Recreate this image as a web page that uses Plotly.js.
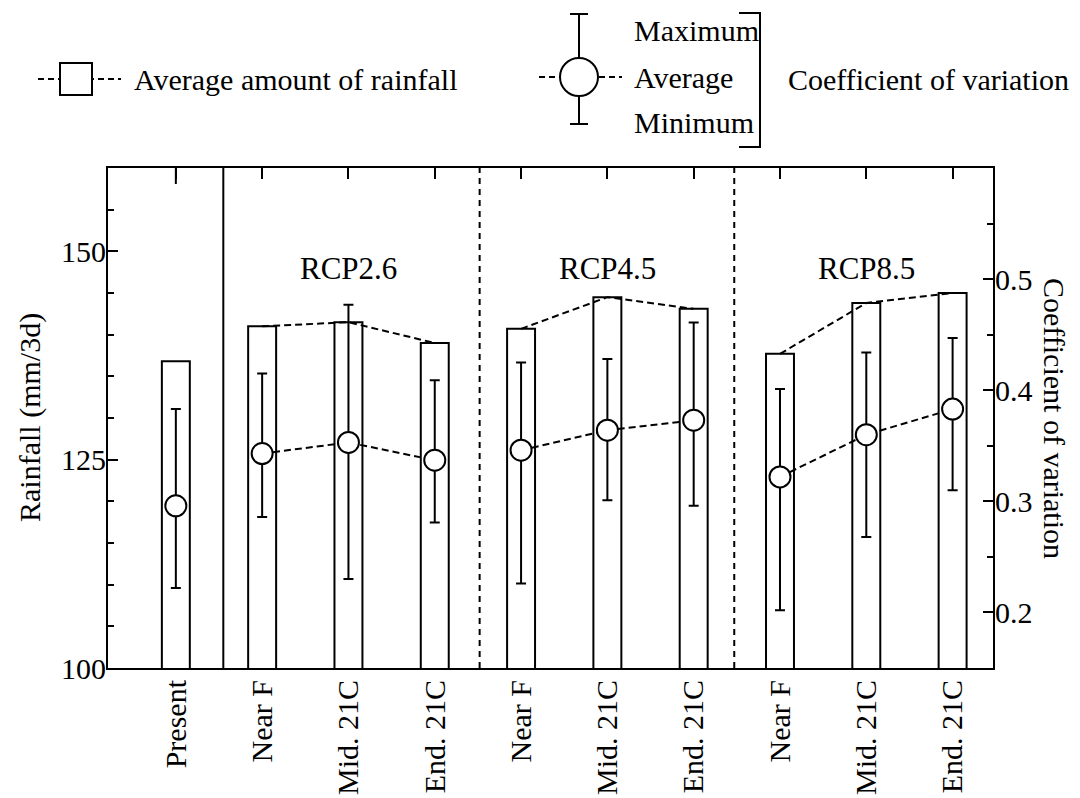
<!DOCTYPE html>
<html>
<head>
<meta charset="utf-8">
<script src="https://cdn.plot.ly/plotly-3.0.1.min.js"></script>
<style>
  html, body { margin: 0; padding: 0; background: #fff; }
  #chart { width: 1080px; height: 798px; }
</style>
</head>
<body>
<div id="chart"></div>
<script>
// Periods on the horizontal axis (present climate, then three future periods per scenario)
const categories = ['Present', 'Near F', 'Mid. 21C', 'End. 21C', 'Near F', 'Mid. 21C', 'End. 21C', 'Near F', 'Mid. 21C', 'End. 21C'];
const scenarios = ['RCP2.6', 'RCP4.5', 'RCP8.5'];
// Index ranges of the periods belonging to each scenario
const scenarioMembers = [[1, 2, 3], [4, 5, 6], [7, 8, 9]];

// Average 3-day rainfall (mm/3d), left axis
const rainfallAvg = [136.8, 141.0, 141.5, 139.0, 140.7, 144.5, 143.1, 137.7, 143.8, 145.0];
// Coefficient of variation, right axis
const cvAvg = [0.296, 0.343, 0.353, 0.337, 0.346, 0.364, 0.373, 0.322, 0.360, 0.383];
const cvMax = [0.383, 0.415, 0.477, 0.409, 0.425, 0.428, 0.461, 0.401, 0.434, 0.447];
const cvMin = [0.222, 0.286, 0.230, 0.281, 0.226, 0.301, 0.296, 0.202, 0.268, 0.310];

const FONT = 'Liberation Serif, Times New Roman, serif';
const FS = 30;
const W = 1080, H = 798;
const M = { l: 108, r: 87, t: 168, b: 130 };
const PW = W - M.l - M.r, PH = H - M.t - M.b;
// pixel -> paper helpers for the hand-drawn key above the plot
const px = v => (v - M.l) / PW;
const py = v => (H - M.b - v) / PH;

const idx = categories.map((_, i) => i);
const xRange = [-0.786, 9.468];
const dashPat = '7px,4px';

const traces = [];

// Rainfall bars
traces.push({
  type: 'bar', x: idx, y: rainfallAvg, width: 0.324,
  marker: { color: '#ffffff', line: { color: '#000', width: 2 } },
  xaxis: 'x', yaxis: 'y', hoverinfo: 'skip', showlegend: false
});

// Dashed lines joining bar tops within each scenario
scenarioMembers.forEach(m => {
  traces.push({
    type: 'scatter', mode: 'lines', x: m, y: m.map(i => rainfallAvg[i]),
    line: { color: '#000', width: 2, dash: dashPat },
    xaxis: 'x', yaxis: 'y', hoverinfo: 'skip', showlegend: false
  });
});

// Dashed lines joining CV averages within each scenario
scenarioMembers.forEach(m => {
  traces.push({
    type: 'scatter', mode: 'lines', x: m, y: m.map(i => cvAvg[i]),
    line: { color: '#000', width: 2, dash: dashPat },
    xaxis: 'x2', yaxis: 'y2', hoverinfo: 'skip', showlegend: false
  });
});

// CV average with min/max range
traces.push({
  type: 'scatter', mode: 'markers', x: idx, y: cvAvg,
  marker: { symbol: 'circle', size: 21, color: '#ffffff', line: { color: '#000', width: 2 } },
  error_y: {
    type: 'data', symmetric: false,
    array: cvMax.map((v, i) => v - cvAvg[i]),
    arrayminus: cvAvg.map((v, i) => v - cvMin[i]),
    color: '#000', thickness: 2, width: 5
  },
  xaxis: 'x2', yaxis: 'y2', hoverinfo: 'skip', showlegend: false
});

const shapes = [];
const annotations = [];

// Plot dividers: present vs future (solid), scenarios (dashed)
shapes.push({ type: 'line', xref: 'x', yref: 'paper', x0: 0.55, x1: 0.55, y0: 0, y1: 1, line: { color: '#000', width: 2 } });
[3.52, 6.47].forEach(v => shapes.push({
  type: 'line', xref: 'x', yref: 'paper', x0: v, x1: v, y0: 0, y1: 1,
  line: { color: '#000', width: 2, dash: '6px,5px' }
}));
// longer top tick over the present-climate column
shapes.push({ type: 'line', xref: 'x', yref: 'paper', x0: 0, x1: 0, y0: 1, y1: py(184), line: { color: '#000', width: 2 } });

// Scenario labels centred over their periods
scenarioMembers.forEach((m, k) => {
  annotations.push({
    text: scenarios[k], xref: 'x', yref: 'paper', x: m[1], y: py(268),
    showarrow: false, font: { family: FONT, size: 31, color: '#000' }, xanchor: 'center', yanchor: 'middle'
  });
});

// Axis titles
annotations.push({
  text: 'Rainfall (mm/3d)', xref: 'paper', yref: 'paper', x: px(30), y: py(418),
  textangle: -90, showarrow: false, font: { family: FONT, size: FS, color: '#000' },
  xanchor: 'center', yanchor: 'middle'
});
annotations.push({
  text: 'Coefficient of variation', xref: 'paper', yref: 'paper', x: px(1055), y: py(418),
  textangle: 90, showarrow: false, font: { family: FONT, size: FS, color: '#000' },
  xanchor: 'center', yanchor: 'middle'
});

// Key: rainfall symbol
shapes.push({ type: 'line', xref: 'paper', yref: 'paper', x0: px(38), x1: px(121), y0: py(79), y1: py(79), line: { color: '#000', width: 2, dash: '6px,4px' } });
shapes.push({ type: 'rect', xref: 'paper', yref: 'paper', x0: px(60), x1: px(92), y0: py(63), y1: py(95), fillcolor: '#fff', line: { color: '#000', width: 2 } });
annotations.push({
  text: 'Average amount of rainfall', xref: 'paper', yref: 'paper', x: px(132), y: py(79),
  showarrow: false, font: { family: FONT, size: FS, color: '#000' }, xanchor: 'left', yanchor: 'middle'
});

// Key: CV symbol
const kx = 579;
shapes.push({ type: 'line', xref: 'paper', yref: 'paper', x0: px(539), x1: px(622), y0: py(77), y1: py(77), line: { color: '#000', width: 2, dash: '6px,4px' } });
shapes.push({ type: 'line', xref: 'paper', yref: 'paper', x0: px(kx), x1: px(kx), y0: py(14), y1: py(124), line: { color: '#000', width: 2 } });
shapes.push({ type: 'line', xref: 'paper', yref: 'paper', x0: px(kx - 9), x1: px(kx + 9), y0: py(14), y1: py(14), line: { color: '#000', width: 2 } });
shapes.push({ type: 'line', xref: 'paper', yref: 'paper', x0: px(kx - 9), x1: px(kx + 9), y0: py(124), y1: py(124), line: { color: '#000', width: 2 } });
shapes.push({ type: 'circle', xref: 'paper', yref: 'paper', x0: px(kx - 19), x1: px(kx + 19), y0: py(58), y1: py(96), fillcolor: '#fff', line: { color: '#000', width: 2 } });
[['Maximum', 30], ['Average', 77], ['Minimum', 123]].forEach(([t, y]) => annotations.push({
  text: t, xref: 'paper', yref: 'paper', x: px(632), y: py(y),
  showarrow: false, font: { family: FONT, size: FS, color: '#000' }, xanchor: 'left', yanchor: 'middle'
}));
shapes.push({
  type: 'path', xref: 'paper', yref: 'paper',
  path: `M ${px(739)} ${py(13)} L ${px(760)} ${py(13)} L ${px(760)} ${py(147)} L ${px(739)} ${py(147)}`,
  line: { color: '#000', width: 2 }
});
annotations.push({
  text: 'Coefficient of variation', xref: 'paper', yref: 'paper', x: px(786), y: py(79),
  showarrow: false, font: { family: FONT, size: FS, color: '#000' }, xanchor: 'left', yanchor: 'middle'
});

const tickFont = { family: FONT, size: FS, color: '#000' };

const layout = {
  width: W, height: H,
  margin: M,
  paper_bgcolor: '#fff', plot_bgcolor: '#fff',
  showlegend: false,
  barmode: 'overlay',
  font: { family: FONT, color: '#000' },
  xaxis: {
    range: xRange, tickmode: 'array', tickvals: idx, ticktext: categories,
    tickangle: -90, tickfont: tickFont, ticks: '', showline: true, linewidth: 2, linecolor: '#000',
    showgrid: false, zeroline: false, fixedrange: true, ticklabelstandoff: -2
  },
  xaxis2: {
    range: xRange, overlaying: 'x', side: 'top', anchor: 'y2', tickmode: 'array', tickvals: idx,
    showticklabels: false, ticks: 'inside', ticklen: 11, tickwidth: 2, tickcolor: '#000',
    showline: true, linewidth: 2, linecolor: '#000', showgrid: false, zeroline: false
  },
  yaxis: {
    range: [100, 160], tickmode: 'array', tickvals: [100, 125, 150],
    ticks: 'inside', ticklen: 10, tickwidth: 2, tickcolor: '#000', tickfont: tickFont,
    minor: { tickmode: 'array', tickvals: [105, 110, 115, 120, 130, 135, 140, 145, 155], ticks: 'inside', ticklen: 6, tickwidth: 2, tickcolor: '#000', showgrid: false },
    showline: true, linewidth: 2, linecolor: '#000', showgrid: false, zeroline: false, ticklabelstandoff: -6
  },
  yaxis2: {
    range: [0.15, 0.6], overlaying: 'y', side: 'right', anchor: 'x',
    tickmode: 'array', tickvals: [0.2, 0.3, 0.4, 0.5], ticktext: ['0.2', '0.3', '0.4', '0.5'],
    ticks: 'inside', ticklen: 10, tickwidth: 2, tickcolor: '#000', tickfont: tickFont,
    minor: { tickmode: 'array', tickvals: [0.25, 0.35, 0.45, 0.55], ticks: 'inside', ticklen: 6, tickwidth: 2, tickcolor: '#000', showgrid: false },
    showline: true, linewidth: 2, linecolor: '#000', showgrid: false, zeroline: false, ticklabelstandoff: -6
  },
  shapes: shapes,
  annotations: annotations
};

Plotly.newPlot('chart', traces, layout, { staticPlot: true, displayModeBar: false });
</script>
</body>
</html>
